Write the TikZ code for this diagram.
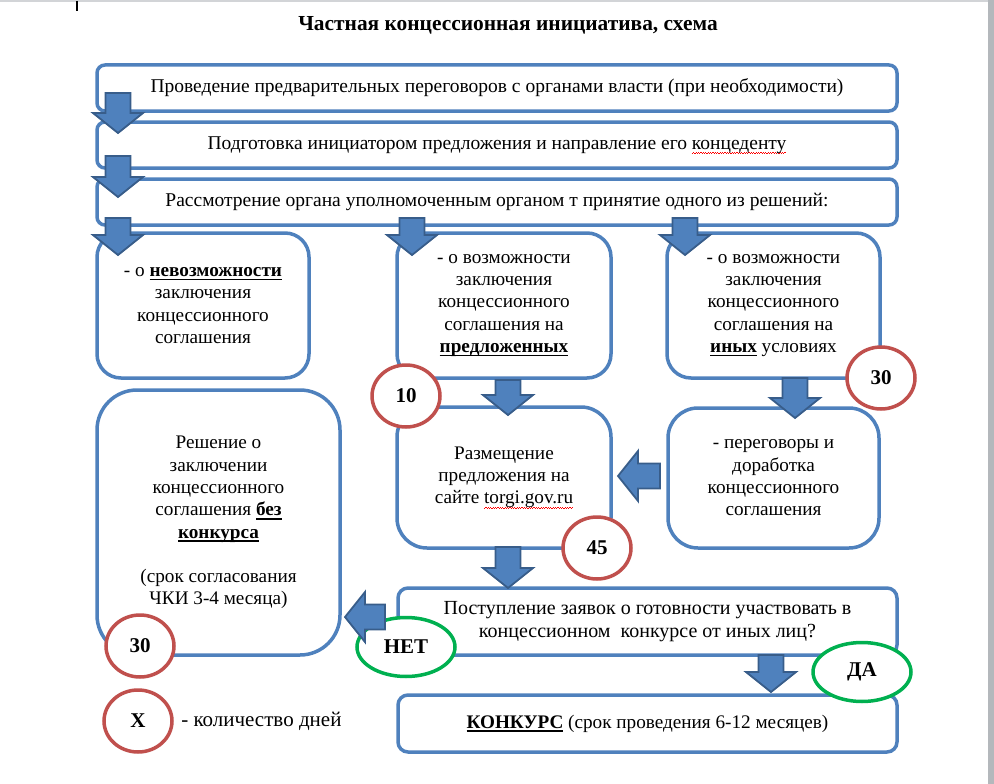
\documentclass[tikz,border=0pt]{standalone}
\usepackage{fontspec}
\setmainfont{Liberation Serif}
\usetikzlibrary{calc,positioning,shapes.geometric}
\definecolor{BoxBlue}{HTML}{4F81BD}
\definecolor{ArrFill}{HTML}{4F81BD}
\definecolor{ArrLine}{HTML}{385D8A}
\definecolor{DayRed}{HTML}{C0504D}
\definecolor{YesGreen}{HTML}{00B050}
\definecolor{PageGray}{HTML}{B4B8BC}

\newsavebox\ubox
\newcommand\ubf[1]{\sbox\ubox{\textbf{#1}}\rlap{\rule[-3.8pt]{\wd\ubox}{1.6pt}}\usebox\ubox}
\newcommand\spell[1]{\sbox\ubox{#1}\rlap{\color{red}\leaders\hbox{\rule[-4.4pt]{1.2pt}{0.7pt}\rule[-3.4pt]{1.2pt}{0.7pt}}\hskip\wd\ubox}\usebox\ubox}
% block arrow: start, tip
\newcommand\blockarr[2]{%
  \coordinate (bs) at #1; \coordinate (be) at #2;
  \coordinate (bh) at ($(be)!20pt!(bs)$);
  \filldraw[arrbody] ($(bs)!12.5pt!90:(be)$) -- ($(bh)!12.5pt!90:(be)$)
    -- ($(bh)!25pt!90:(be)$) -- (be) -- ($(bh)!25pt!-90:(be)$)
    -- ($(bh)!12.5pt!-90:(be)$) -- ($(bs)!12.5pt!-90:(be)$) -- cycle;}

\begin{document}
\begin{tikzpicture}[x=1pt,y=-1pt,
    box/.style={draw=BoxBlue,line width=3.5pt,fill=white,align=center,outer sep=0pt,
                inner sep=2pt,font=\fontsize{19.2}{22.3}\selectfont},
    rowbox/.style={box,rounded corners=8pt,minimum width=800pt,minimum height=46pt,
                font=\fontsize{19.5}{22.3}\selectfont},
    days/.style={ellipse,draw=DayRed,line width=3.5pt,fill=white,minimum width=68pt,
                 minimum height=62pt,inner sep=0pt,font=\fontsize{21}{24}\selectfont\bfseries},
    answer/.style={days,draw=YesGreen,minimum width=98pt,minimum height=59pt},
    arrbody/.style={fill=ArrFill,draw=ArrLine,line width=1.8pt,line join=miter}
  ]
    \useasboundingbox (0,0) rectangle (994,784);
    \node[font=\fontsize{21.4}{24}\selectfont\bfseries] (title) at (508,25) {Частная концессионная инициатива, схема};

    \node[rowbox] (b1) at (497,88) {Проведение предварительных переговоров с органами власти (при необходимости)};
    \node[rowbox] (b2) at (497,145) {Подготовка инициатором предложения и направление его \spell{концеденту}};
    \node[rowbox] (b3) at (497,202) {Рассмотрение органа уполномоченным органом т принятие одного из решений:};

    \node[box,rounded corners=24pt,minimum width=212pt,minimum height=145pt] (bA) at (203,305.5)
      {- о \ubf{невозможности}\\заключения\\концессионного\\соглашения};
    \node[box,rounded corners=24pt,minimum width=214pt,minimum height=145pt] (bB) at (504,305.5)
      {- о возможности\\заключения\\концессионного\\соглашения на\\\ubf{предложенных}};
    \node[box,rounded corners=24pt,minimum width=213pt,minimum height=145pt] (bC) at (773.5,305.5)
      {- о возможности\\заключения\\концессионного\\соглашения на\\\ubf{иных} условиях};
    \node[box,rounded corners=40pt,minimum width=243pt,minimum height=265pt] (bD) at (218.5,522.5)
      {Решение о\\заключении\\концессионного\\соглашения \ubf{без}\\\ubf{конкурса}\\[22pt](срок согласования\\ЧКИ 3-4 месяца)};
    \node[box,rounded corners=30pt,minimum width=214pt,minimum height=141pt] (bE) at (504,477.5)
      {Размещение\\предложения на\\сайте \spell{torgi.gov.ru}};
    \node[box,rounded corners=30pt,minimum width=211pt,minimum height=140pt] (bF) at (773.5,478)
      {- переговоры и\\доработка\\концессионного\\соглашения};
    \node[box,rounded corners=10pt,minimum width=499pt,minimum height=67pt,font=\fontsize{20}{22.5}\selectfont] (bG) at (647.5,621.5)
      {Поступление заявок о готовности участвовать в\\концессионном\ \ конкурсе от иных лиц?};
    \node[box,rounded corners=10pt,minimum width=499pt,minimum height=57pt] (bH) at (647.5,723.5)
      {\ubf{КОНКУРС} (срок проведения 6-12 месяцев)};

    % days
    \node[days] (d10) at (406,396) {10};
    \node[days] (d30a) at (881,378) {30};
    \node[days] (d45) at (597,548) {45};
    \node[days] (d30b) at (140,646) {30};
    \node[days] (dX) at (138,721) {X};
    \node[right=4pt of dX,font=\fontsize{21}{24}\selectfont] (legend) {- количество дней};
    \node[answer] (no) at (406,647) {НЕТ};
    \node[answer] (yes) at (862,672) {ДА};

    % arrows
    \blockarr{([shift={(21,-18)}]b1.south west)}{([shift={(21,11)}]b2.north west)}
    \blockarr{([shift={(21,-12)}]b2.south west)}{([shift={(21,18)}]b3.north west)}
    \blockarr{([shift={(21,-7)}]b3.south west)}{([shift={(21,22)}]bA.north west)}
    \blockarr{([shift={(15,-15)}]bB.north west)}{([shift={(15,22)}]bB.north west)}
    \blockarr{([shift={(18,-15)}]bC.north west)}{([shift={(18,22)}]bC.north west)}
    \blockarr{([shift={(4,-27)}]bE.north)}{([shift={(4,8)}]bE.north)}
    \blockarr{([shift={(21.5,-30)}]bF.north)}{([shift={(21.5,10)}]bF.north)}
    \blockarr{([shift={(49,-1.5)}]bE.east)}{([shift={(7,-1.5)}]bE.east)}
    \blockarr{([shift={(4,-1)}]bE.south)}{([shift={(4,40)}]bE.south)}
    \blockarr{([shift={(-13,-4.5)}]bG.west)}{([shift={(-53,-4.5)}]bG.west)}
    \blockarr{([shift={(-126,0)}]bG.south east)}{([shift={(-126,37)}]bG.south east)}

    % page edges
    \fill[PageGray!60] (0,0) rectangle (988,2);
    \fill[PageGray] (988,0) rectangle (994,784);
    \draw[line width=1.5pt] (77,1) -- (77,11);
\end{tikzpicture}
\end{document}
